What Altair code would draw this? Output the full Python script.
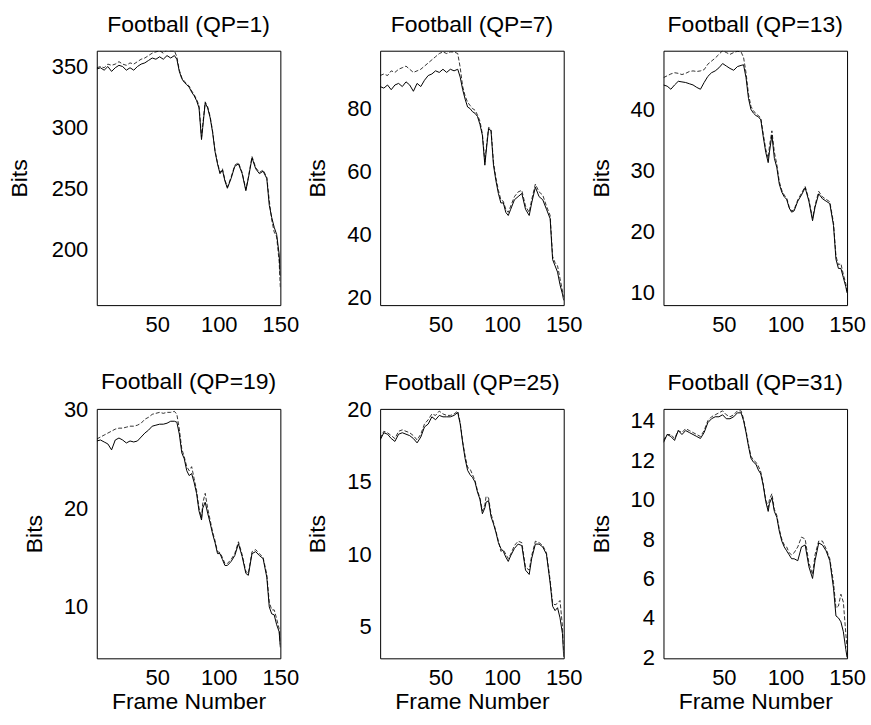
import altair as alt
import pandas as pd

FONT = "Liberation Sans"

FRAMES = [1, 4, 7, 10, 13, 16, 19, 22, 25, 28, 31, 34, 37, 40, 43, 46, 49, 52, 55, 58,
          61, 64, 66, 68, 70, 72, 74, 76, 78, 80, 82, 84, 86, 87, 89, 91, 93, 95, 97, 99,
          101, 103, 105, 107, 110, 113, 116, 119, 122, 124, 127, 130, 133, 136, 139, 141,
          143, 145, 147, 149, 150]

QP = [1, 7, 13, 19, 25, 31]

SOLID_QP1 = [348, 349, 347, 350, 346, 349, 351, 350, 347, 349, 347, 350, 352, 353, 355, 357, 356, 358, 356, 359,
             357, 359, 356, 346, 340, 337, 335, 333, 329, 326, 322, 316, 290, 300, 320, 316, 308, 296, 280, 270,
             262, 265, 256, 250, 258, 268, 270, 262, 248, 258, 275, 266, 262, 264, 258, 236,
             226, 218, 212, 196, 178]
DASHED_QP1 = [349, 350, 349, 352, 351, 352, 354, 352, 351, 353, 352, 354, 356, 357, 359, 361, 362, 363, 361, 364,
              363, 363, 358, 347, 341, 338, 336, 334, 330, 327, 323, 318, 292, 302, 321, 317, 309, 297, 281, 271,
              263, 266, 257, 251, 259, 269, 271, 263, 249, 259, 276, 267, 263, 265, 259, 240,
              224, 214, 210, 190, 168]

SOLID_QP7 = [87, 86.5, 87.5, 86, 87.5, 88, 87, 88.5, 87.5, 85.5, 88, 87, 89, 90.5, 91, 92, 91.5, 92.5, 91.5, 92.5,
             92, 92.5, 90, 86, 83, 80.5, 80, 79, 78.5, 77.5, 75, 71.5, 62, 66, 73.5, 73, 62, 57, 53, 50,
             50, 47, 46, 48, 51, 52, 53, 48, 46, 50, 55, 52, 51, 48, 45, 32,
             30, 28, 24, 21, 19]
DASHED_QP7 = [90.5, 91, 90.5, 92, 91.5, 92.5, 93, 93.5, 92.5, 91.5, 92, 92.5, 93.5, 94.5, 95.5, 96.5, 97.5, 98, 97.5, 98,
              98, 97.5, 93, 87, 84, 82, 81, 80, 79.5, 78, 76, 72, 63, 67, 74, 73.5, 63, 58, 54, 51,
              50.5, 48, 47, 49, 52, 53.5, 54, 49, 47, 51, 56, 53.5, 52.5, 49, 46, 33,
              31, 30, 26, 22, 20]

SOLID_QP13 = [44, 43.8, 43.3, 44, 44.6, 44.5, 44.4, 44.2, 44, 43.6, 43.3, 44.4, 45.4, 46, 46.3, 46.8, 47.5, 47.1, 46.7, 46.4,
              47, 47.2, 47.3, 45.2, 41.8, 40, 39.4, 39, 38.8, 38.3, 35.5, 33, 31.3, 33, 35.8, 32, 30.5, 27.8, 26.5, 25.7,
              25.3, 23.9, 23.2, 23.4, 25, 26, 27.2, 25, 21.8, 24, 26.2, 25.4, 25, 24.6, 21, 15.5,
              14, 14, 12.5, 11, 10]
DASHED_QP13 = [45.2, 45.5, 45.8, 46, 45.9, 45.7, 45.9, 46.2, 46.3, 46.2, 46.3, 46.5, 47.4, 47.9, 48.4, 49, 49.6, 49.3, 49, 49.3,
               49.5, 49.4, 48.5, 46, 42.5, 40.5, 39.8, 39.3, 39, 38.6, 36, 33.5, 32, 34, 36.5, 33, 31, 28.2, 26.8, 26,
               25.5, 24.1, 23.4, 23.6, 25.2, 26.3, 27.4, 25.3, 22.2, 24.3, 26.6, 25.7, 25.3, 24.9, 21.5, 16,
               14.6, 14.8, 13, 11.5, 10.3]

SOLID_QP19 = [26.8, 26.9, 26.7, 26.5, 25.9, 26.9, 27.1, 26.9, 26.6, 26.8, 26.7, 26.8, 27.2, 27.6, 27.9, 28.3, 28.4, 28.5, 28.5, 28.6,
              28.8, 28.8, 28.7, 27.5, 25.6, 25, 23.8, 23.3, 23.5, 22.6, 21.5, 19.7, 18.8, 20, 20.6, 19.5, 18.5, 17.4, 16.5, 15.4,
              15.4, 14.8, 14.2, 14.2, 14.6, 15.2, 16.4, 15.1, 13.4, 13.2, 15.4, 15.6, 15.2, 14.9, 13, 10,
              9.3, 9.2, 8.2, 7.5, 5.9]
DASHED_QP19 = [27, 27.2, 27.4, 27.6, 27.8, 28, 28.1, 28.1, 28.2, 28.3, 28.3, 28.4, 28.6, 29, 29.2, 29.5, 29.6, 29.7, 29.6, 29.7,
               29.7, 29.8, 29.5, 28, 26, 25.2, 24.2, 23.8, 24.2, 23, 21.8, 20, 19, 20.5, 21.5, 20, 18.8, 17.6, 16.7, 15.6,
               15.5, 15, 14.4, 14.4, 14.8, 15.4, 16.6, 15.3, 13.6, 13.4, 15.6, 15.8, 15.4, 15, 13.3, 10.5,
               9.7, 9.7, 8.8, 7.8, 6.2]

SOLID_QP25 = [17.9, 18.4, 18.3, 18, 17.8, 18.3, 18.4, 18.3, 18.2, 18, 17.7, 18.1, 18.8, 19, 19.5, 19.3, 19.6, 19.5, 19.5, 19.5,
              19.6, 19.8, 19, 17.7, 16.6, 15.8, 15.5, 15.3, 15, 14.3, 13.8, 12.8, 13.2, 13.6, 13.7, 12.6, 12.1, 11.5, 10.8, 10.4,
              10.2, 9.8, 9.5, 9.9, 10.4, 10.7, 10.6, 8.9, 8.6, 9.7, 10.7, 10.7, 10.5, 10, 8, 6.4,
              6.1, 6.3, 5.6, 4.5, 2.9]
DASHED_QP25 = [18, 18.5, 18.4, 18.2, 18, 18.5, 18.6, 18.5, 18.4, 18.2, 17.9, 18.3, 19, 19.3, 19.7, 19.6, 19.9, 19.7, 19.6, 19.6,
               19.7, 19.9, 19.1, 17.8, 16.8, 16, 15.9, 15.5, 15.1, 14.4, 13.9, 13, 13.4, 14, 13.9, 12.8, 12.2, 11.6, 10.9, 10.2,
               10.3, 10, 9.7, 10, 10.6, 10.9, 10.8, 9.1, 8.9, 9.9, 10.9, 10.8, 10.6, 10.1, 8.2, 6.6,
               6.5, 6.6, 6.8, 5, 3.2]

SOLID_QP31 = [12.9, 13.3, 13.2, 13, 13.5, 13.3, 13.5, 13.4, 13.3, 13.2, 13.1, 13.4, 13.9, 14.1, 14.2, 14.2, 14.3, 14.1, 14.1, 14.2,
              14.4, 14.4, 14, 13.4, 12.7, 12.1, 11.9, 11.8, 11.5, 11.3, 10.7, 9.9, 9.4, 9.8, 10.1, 9.4, 9.1, 8.4, 7.9, 7.6,
              7.4, 7.2, 7, 7, 6.9, 7.6, 7.7, 6.6, 6, 6.9, 7.8, 7.7, 7.4, 6.9, 5.5, 4.1,
              4, 3.8, 3.3, 2.4, 2.0]
DASHED_QP31 = [13, 13.3, 13.3, 13.1, 13.5, 13.4, 13.6, 13.5, 13.4, 13.3, 13.2, 13.5, 14, 14.2, 14.3, 14.4, 14.5, 14.3, 14.2, 14.3,
               14.5, 14.5, 14.1, 13.5, 12.8, 12.2, 12, 11.9, 11.7, 11.4, 10.8, 10, 9.6, 10, 10.3, 9.5, 9.2, 8.5, 8, 7.7,
               7.6, 7.3, 7.2, 7.3, 7.6, 8.1, 8, 6.8, 6.2, 7.2, 7.9, 7.9, 7.5, 7, 5.8, 4.5,
               4.6, 5.2, 4.8, 3.2, 2.5]

SOLID = [SOLID_QP1, SOLID_QP7, SOLID_QP13, SOLID_QP19, SOLID_QP25, SOLID_QP31]
DASHED = [DASHED_QP1, DASHED_QP7, DASHED_QP13, DASHED_QP19, DASHED_QP25, DASHED_QP31]

Y_DOMAINS = [[154, 363], [17.5, 98.4], [8, 49.6], [4.8, 30.05], [2.8, 20.05], [1.95, 14.6]]
Y_TICKS = [[200, 250, 300, 350], [20, 40, 60, 80], [10, 20, 30, 40],
           [10, 20, 30], [5, 10, 15, 20], [2, 4, 6, 8, 10, 12, 14]]
X_TICKS = [50, 100, 150]
TITLE_OFFSETS = [14, 14, 14, 4, 4, 14]
Y_TITLE_PAD = [20, 17, 17, 17, 17, 17]


def panel(i, bottom, height):
    df = pd.DataFrame({"Frame": FRAMES, "Solid": SOLID[i], "Dashed": DASHED[i]})
    xaxis = alt.Axis(values=X_TICKS, title="Frame Number" if bottom else None,
                     labelFlush=False, labelPadding=9, titlePadding=2)
    x = alt.X("Frame:Q", scale=alt.Scale(domain=[1, 150], nice=False, zero=False), axis=xaxis)
    yscale = alt.Scale(domain=Y_DOMAINS[i], nice=False, zero=False)
    yaxis = alt.Axis(values=Y_TICKS[i], title="Bits", labelPadding=9, titlePadding=Y_TITLE_PAD[i])
    base = alt.Chart(df)
    dashed = base.mark_line(color="black", strokeWidth=0.8, strokeDash=[4, 2], clip=True).encode(
        x=x, y=alt.Y("Dashed:Q", scale=yscale, axis=yaxis))
    solid = base.mark_line(color="black", strokeWidth=1, clip=True).encode(
        x=x, y=alt.Y("Solid:Q", scale=yscale, axis=yaxis))
    return alt.layer(dashed, solid).properties(
        width=184, height=height,
        title=alt.Title(f"Football (QP={QP[i]})", anchor="middle", offset=TITLE_OFFSETS[i]))


panels = [panel(0, False, 255), panel(1, False, 255), panel(2, False, 255),
          panel(3, True, 250), panel(4, True, 250), panel(5, True, 250)]

chart = alt.concat(*panels, columns=3, spacing={"row": 104, "column": 100},
                   bounds="flush").properties(
    padding={"left": 7, "top": 12, "right": 5, "bottom": 5},
    background="white",
).configure_view(
    stroke="black", strokeWidth=1
).configure_axis(
    labelFont=FONT, titleFont=FONT, labelFontSize=22, titleFontSize=23,
    labelColor="black", titleColor="black", titleFontWeight="normal",
    domain=False, ticks=False, grid=False
).configure_title(
    font=FONT, fontSize=23, fontWeight="normal", color="black"
)

chart.save("out.html", embed_options={"renderer": "svg", "actions": False})
